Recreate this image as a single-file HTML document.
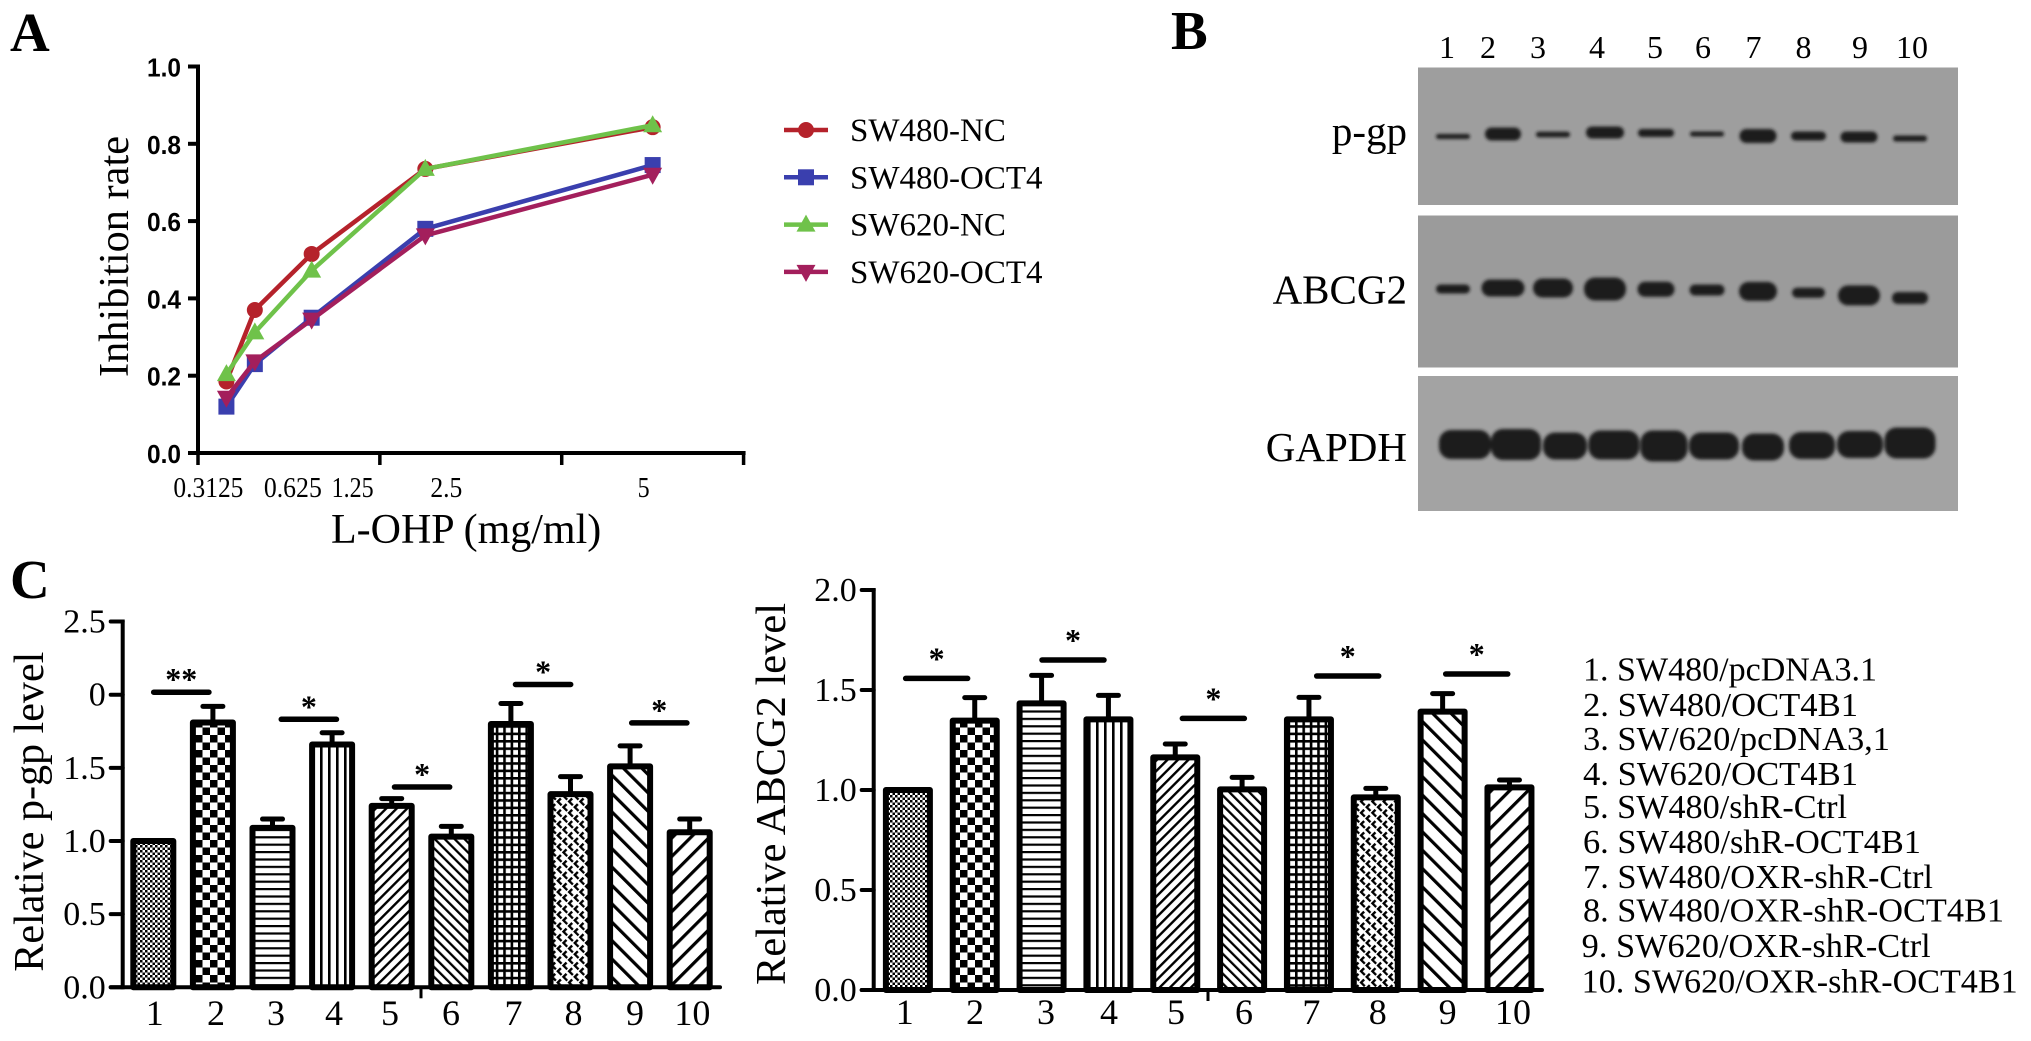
<!DOCTYPE html>
<html lang="en">
<head>
<meta charset="utf-8">
<title>OCT4B1 figure panels</title>
<style>
html,body{margin:0;padding:0;background:#fff;width:2031px;height:1041px;overflow:hidden}
svg{display:block}
text{font-family:"Liberation Serif",serif;fill:#000}
.bold{font-weight:bold}
.sans{font-family:"Liberation Sans",sans-serif;font-weight:bold}
</style>
</head>
<body>
<svg id="fig" xmlns="http://www.w3.org/2000/svg" width="2031" height="1041" viewBox="0 0 2031 1041">
<defs>
<filter id="blur1" x="-30%" y="-60%" width="160%" height="220%"><feGaussianBlur stdDeviation="1.6"/></filter>
<pattern id="p1" patternUnits="userSpaceOnUse" width="5" height="5"><rect width="5" height="5" fill="#fff"/><rect width="2.5" height="2.5" fill="#000"/><rect x="2.5" y="2.5" width="2.5" height="2.5" fill="#000"/></pattern>
<pattern id="p2" patternUnits="userSpaceOnUse" width="15" height="15"><rect width="15" height="15" fill="#fff"/><rect width="7.5" height="7.5" fill="#000"/><rect x="7.5" y="7.5" width="7.5" height="7.5" fill="#000"/></pattern>
<pattern id="p3" patternUnits="userSpaceOnUse" width="8" height="7.4"><rect width="8" height="7.4" fill="#fff"/><rect width="8" height="2.2" fill="#000"/></pattern>
<pattern id="p4" patternUnits="userSpaceOnUse" width="8" height="8"><rect width="8" height="8" fill="#fff"/><rect width="2.6" height="8" fill="#000"/></pattern>
<pattern id="p5" patternUnits="userSpaceOnUse" width="7.4" height="7.4" patternTransform="rotate(45)"><rect width="7.4" height="7.4" fill="#fff"/><rect width="2.4" height="7.4" fill="#000"/></pattern>
<pattern id="p6" patternUnits="userSpaceOnUse" width="7" height="7" patternTransform="rotate(-45)"><rect width="7" height="7" fill="#fff"/><rect width="2.3" height="7" fill="#000"/></pattern>
<pattern id="p7" patternUnits="userSpaceOnUse" width="7.4" height="7.4"><rect width="7.4" height="7.4" fill="#fff"/><rect width="2.6" height="7.4" fill="#000"/><rect width="7.4" height="2.6" fill="#000"/></pattern>
<pattern id="p8" patternUnits="userSpaceOnUse" width="8" height="8" patternTransform="rotate(45)"><rect width="8" height="8" fill="#fff"/><rect width="2.4" height="5.5" fill="#000"/><rect y="3.2" width="6.5" height="2.3" fill="#000"/></pattern>
<pattern id="p9" patternUnits="userSpaceOnUse" width="13" height="13" patternTransform="rotate(-45)"><rect width="13" height="13" fill="#fff"/><rect width="3.2" height="13" fill="#000"/></pattern>
<pattern id="p10" patternUnits="userSpaceOnUse" width="13" height="13" patternTransform="rotate(45)"><rect width="13" height="13" fill="#fff"/><rect width="3.2" height="13" fill="#000"/></pattern>
</defs>

<text class="bold" x="10" y="51" font-size="55">A</text>
<text class="bold" x="1171" y="49" font-size="55">B</text>
<text class="bold" x="10" y="598" font-size="55">C</text>

<g id="chart-a"></g>
<g id="legend-a"></g>

<g>
  <rect x="1418" y="67.5" width="540" height="137.5" fill="#9e9e9e"/>
  <rect x="1418" y="215.5" width="540" height="152" fill="#9b9b9b"/>
  <rect x="1418" y="376" width="540" height="135" fill="#a3a3a3"/>
  <g font-size="32" text-anchor="middle">
    <text x="1447" y="58">1</text><text x="1488" y="58">2</text><text x="1538" y="58">3</text><text x="1597" y="58">4</text><text x="1655" y="58">5</text><text x="1703" y="58">6</text><text x="1753.5" y="58">7</text><text x="1803.5" y="58">8</text><text x="1860" y="58">9</text><text x="1912" y="58">10</text>
  </g>
  <text x="1407" y="145" font-size="41" text-anchor="end">p-gp</text>
  <text x="1407" y="303.5" font-size="41" text-anchor="end">ABCG2</text>
  <text x="1407" y="461" font-size="41" text-anchor="end">GAPDH</text>
  <g fill="#1a1a1a" filter="url(#blur1)">
    <rect x="1436" y="134" width="34" height="5" rx="2.5"/><rect x="1485" y="127.5" width="36" height="13" rx="6.5"/><rect x="1536" y="131.75" width="34" height="5.5" rx="2.7"/><rect x="1586" y="126.5" width="38" height="12" rx="6"/><rect x="1638" y="129" width="36" height="8" rx="4"/><rect x="1690" y="131.5" width="34" height="5" rx="2.5"/><rect x="1739.5" y="129" width="37" height="14" rx="7"/><rect x="1791" y="131.5" width="35" height="9" rx="4.5"/><rect x="1840.5" y="131.5" width="37" height="11" rx="5.5"/><rect x="1893" y="135.5" width="34" height="6" rx="3"/>
  </g>
  <g fill="#1a1a1a" filter="url(#blur1)">
    <rect x="1436" y="284.5" width="34" height="9" rx="4.5"/><rect x="1481.5" y="279.5" width="43" height="17" rx="8.5"/><rect x="1533" y="278.5" width="40" height="19" rx="9.5"/><rect x="1584" y="277.5" width="42" height="23" rx="11"/><rect x="1637.5" y="281.8" width="37" height="15" rx="7.5"/><rect x="1689.5" y="284.5" width="35" height="11" rx="5.5"/><rect x="1739" y="281.9" width="38" height="19" rx="9.5"/><rect x="1792" y="287.7" width="33" height="10" rx="5"/><rect x="1838" y="285.4" width="42" height="20" rx="10"/><rect x="1892" y="292" width="36" height="12" rx="6"/>
  </g>
  <g fill="#1a1a1a" filter="url(#blur1)">
    <rect x="1439" y="430" width="52" height="29" rx="12"/><rect x="1491" y="429" width="50" height="31" rx="12"/><rect x="1543" y="432.5" width="44" height="27" rx="12"/><rect x="1588.5" y="430.5" width="51" height="29" rx="12"/><rect x="1640.5" y="430.5" width="47" height="31" rx="12"/><rect x="1689" y="432.5" width="50" height="27" rx="12"/><rect x="1742" y="433.5" width="42" height="27" rx="12"/><rect x="1789" y="432" width="46" height="27" rx="12"/><rect x="1837" y="431" width="46" height="27" rx="12"/><rect x="1884.5" y="427.5" width="51" height="31" rx="12"/>
  </g>
</g>

<g id="chart-left"></g>
<g id="chart-right"></g>

<g id="group-key" font-size="33.5">
  <text x="1583" y="680.7" textLength="294" lengthAdjust="spacingAndGlyphs">1. SW480/pcDNA3.1</text>
  <text x="1583" y="716" textLength="275" lengthAdjust="spacingAndGlyphs">2. SW480/OCT4B1</text>
  <text x="1583" y="750" textLength="307" lengthAdjust="spacingAndGlyphs">3. SW/620/pcDNA3,1</text>
  <text x="1583" y="785" textLength="275" lengthAdjust="spacingAndGlyphs">4. SW620/OCT4B1</text>
  <text x="1583" y="818" textLength="264" lengthAdjust="spacingAndGlyphs">5. SW480/shR-Ctrl</text>
  <text x="1583" y="853" textLength="338" lengthAdjust="spacingAndGlyphs">6. SW480/shR-OCT4B1</text>
  <text x="1583" y="888" textLength="350" lengthAdjust="spacingAndGlyphs">7. SW480/OXR-shR-Ctrl</text>
  <text x="1583" y="921.7" textLength="421" lengthAdjust="spacingAndGlyphs">8. SW480/OXR-shR-OCT4B1</text>
  <text x="1581.7" y="957" textLength="349" lengthAdjust="spacingAndGlyphs">9. SW620/OXR-shR-Ctrl</text>
  <text x="1581.7" y="992.7" textLength="436" lengthAdjust="spacingAndGlyphs">10. SW620/OXR-shR-OCT4B1</text>
</g>
</svg>

<script>
/* Panel A data */
const concentrations = [0.3125, 0.625, 1.25, 2.5, 5];
const sw480Nc = [0.185, 0.37, 0.515, 0.735, 0.843];
const sw480Oct4 = [0.12, 0.23, 0.35, 0.58, 0.745];
const sw620Nc = [0.204, 0.312, 0.472, 0.735, 0.848];
const sw620Oct4 = [0.143, 0.237, 0.345, 0.563, 0.72];
const seriesNamesA = ["SW480-NC", "SW480-OCT4", "SW620-NC", "SW620-OCT4"];
const yTicksA = [0, 0.2, 0.4, 0.6, 0.8, 1.0];
const xTicksA = [0, 2, 4, 6];
const xTickLabelsA = ["0.3125", "0.625", "1.25", "2.5", "5"];

/* Panel C data */
const groups = ["1", "2", "3", "4", "5", "6", "7", "8", "9", "10"];
const pgpMeans = [1.0, 1.81, 1.09, 1.66, 1.24, 1.03, 1.80, 1.32, 1.51, 1.06];
const pgpErrors = [0, 0.11, 0.06, 0.08, 0.05, 0.07, 0.14, 0.12, 0.14, 0.09];
const pgpSigLevels = [2.017, 1.832, 1.369, 2.07, 1.807];
const pgpSigPositions = [0.47, 2.61, 4.51, 6.54, 8.49];
const pgpSigLabels = ["**", "*", "*", "*", "*"];
const pgpTicks = [0, 0.5, 1.0, 1.5, 2.0, 2.5];
const pgpTickLabels = ["0.0", "0.5", "1.0", "1.5", "0", "2.5"];

const abcMeans = [1.0, 1.347, 1.433, 1.353, 1.163, 1.003, 1.353, 0.963, 1.392, 1.013];
const abcErrors = [0, 0.115, 0.14, 0.12, 0.067, 0.06, 0.11, 0.045, 0.09, 0.037];
const abcSigLevels = [1.558, 1.65, 1.358, 1.57, 1.58];
const abcSigPositions = [0.43, 2.47, 4.57, 6.58, 8.51];
const abcSigLabels = ["*", "*", "*", "*", "*"];
const abcTicks = [0, 0.5, 1.0, 1.5, 2.0];
const abcTickLabels = ["0.0", "0.5", "1.0", "1.5", "2.0"];

const NS = "http://www.w3.org/2000/svg";
function mk(parent, tag, attrs, txt) {
  const el = document.createElementNS(NS, tag);
  for (const k in attrs) el.setAttribute(k, attrs[k]);
  if (txt !== undefined) el.textContent = txt;
  parent.appendChild(el);
  return el;
}
function tag(el, name) {
  
  
  return el;
}

/* ---------- Panel A ---------- */
const xA = v => 198 + v * 90.93;
const yA = v => 453 - 386.5 * v;
const gA = document.getElementById("chart-a");
const colorsA = ["#b5222b", "#3a3fae", "#6fc24a", "#a31f5c"];
const shapesA = ["circle", "square", "triangle", "invtriangle"];

function marker(parent, shape, x, y, color, name) {
  let el;
  if (shape === "circle") el = mk(parent, "circle", {cx: x, cy: y, r: 8, fill: color});
  else if (shape === "square") el = mk(parent, "rect", {x: x - 8, y: y - 8, width: 16, height: 16, fill: color});
  else if (shape === "triangle") el = mk(parent, "polygon", {points: `${x},${y - 10} ${x + 9.5},${y + 7} ${x - 9.5},${y + 7}`, fill: color});
  else el = mk(parent, "polygon", {points: `${x},${y + 10} ${x + 9.5},${y - 7} ${x - 9.5},${y - 7}`, fill: color});
  
  
  return el;
}

(function drawA() {
  const yAxis = mk(gA, "line", {x1: xA(0), x2: xA(0), y1: yA(1) - 2, y2: yA(0) + 2, stroke: "#000", "stroke-width": 4});
  
  
  const xAxis = mk(gA, "line", {x1: xA(0) - 10, x2: xA(6) + 2, y1: yA(0), y2: yA(0), stroke: "#000", "stroke-width": 4});
  
  
  yTicksA.forEach(v => {
    tag(mk(gA, "line", {x1: xA(0) - 10, x2: xA(0), y1: yA(v), y2: yA(v), stroke: "#000", "stroke-width": 4}), 'y-tick');
    tag(mk(gA, "text", {x: 181, y: yA(v) + 10, "font-size": 26, "text-anchor": "end", class: "sans", textLength: 34, lengthAdjust: "spacingAndGlyphs"}, v.toFixed(1)), 'y-tick-label');
  });
  xTicksA.forEach(v => {
    tag(mk(gA, "line", {x1: xA(v), x2: xA(v), y1: yA(0), y2: yA(0) + 12, stroke: "#000", "stroke-width": 3.5}), 'x-tick');
  });
  const labelShift = [-18, 38, 41, 21, -9];
  const labelWidth = [70, 58, 42, 32, 12];
  xTickLabelsA.forEach((t, i) => {
    tag(mk(gA, "text", {x: xA(concentrations[i]) + labelShift[i], y: 497, "font-size": 29, "text-anchor": "middle", textLength: labelWidth[i], lengthAdjust: "spacingAndGlyphs"}, t), 'x-tick-label');
  });
  [sw480Nc, sw480Oct4, sw620Nc, sw620Oct4].forEach((vals, s) => {
    const g = mk(gA, "g", {});
    
    
    const pts = vals.map((v, i) => xA(concentrations[i]) + "," + yA(v)).join(" ");
    const line = mk(g, "polyline", {points: pts, fill: "none", stroke: colorsA[s], "stroke-width": 4.5});
    
    
    vals.forEach((v, i) => marker(g, shapesA[s], xA(concentrations[i]), yA(v), colorsA[s], 'series-point'));
  });
  const yTitle = mk(gA, "text", {transform: "translate(128,377) rotate(-90)", "font-size": 42, textLength: 241, lengthAdjust: "spacingAndGlyphs"}, "Inhibition rate");
  
  
  const xTitle = mk(gA, "text", {x: 331, y: 543, "font-size": 42}, "L-OHP (mg/ml)");
  
  

  const lg = document.getElementById("legend-a");
  seriesNamesA.forEach((n, i) => {
    const yy = 130 + i * 47.3;
    const g = mk(lg, "g", {});
    
    
    mk(g, "line", {x1: 784, x2: 828, y1: yy, y2: yy, stroke: colorsA[i], "stroke-width": 4.5});
    marker(g, shapesA[i], 806, yy, colorsA[i], 'legend-marker');
    mk(g, "text", {x: 850, y: yy + 11, "font-size": 33}, n);
  });
})();

/* ---------- Panel C ---------- */
function drawBars(cfg) {
  const g = document.getElementById(cfg.id);
  const y = v => cfg.y0 - cfg.unit * v;
  const cx = i => cfg.x0 + cfg.pitch * i;
  const sw = 6;

  cfg.means.forEach((m, i) => {
    const group = mk(g, "g", {});
    
    
    if (cfg.errors[i] > 0) {
      const stem = mk(group, "line", {x1: cx(i), x2: cx(i), y1: y(m), y2: y(m + cfg.errors[i]), stroke: "#000", "stroke-width": 5});
      
      
      const cap = mk(group, "line", {x1: cx(i) - 10, x2: cx(i) + 10, y1: y(m + cfg.errors[i]), y2: y(m + cfg.errors[i]), stroke: "#000", "stroke-width": 5, "stroke-linecap": "round"});
      
      
    }
    const bar = mk(group, "rect", {x: cx(i) - (cfg.barW - sw) / 2, y: y(m), width: cfg.barW - sw, height: y(0) - y(m), fill: "url(#p" + (i + 1) + ")", stroke: "#000", "stroke-width": sw, "stroke-linejoin": "round"});
    
    
    const lab = mk(group, "text", {x: cfg.labelX[i], y: cfg.labelY, "font-size": 36, "text-anchor": "middle"}, groups[i]);
    
    
  });

  tag(mk(g, "line", {x1: cfg.axisX, x2: cfg.axisX, y1: y(cfg.ticks[cfg.ticks.length - 1]) - 2, y2: y(0) + 2, stroke: "#000", "stroke-width": 4}), 'y-axis');
  tag(mk(g, "line", {x1: cfg.axisX - 12, x2: cfg.axisEnd, y1: y(0), y2: y(0), stroke: "#000", "stroke-width": 4, "stroke-linecap": "round"}), 'x-axis');
  tag(mk(g, "line", {x1: cfg.midTick, x2: cfg.midTick, y1: y(0), y2: y(0) + 11, stroke: "#000", "stroke-width": 3}), 'x-tick');

  cfg.ticks.forEach((v, i) => {
    tag(mk(g, "line", {x1: cfg.axisX - 12, x2: cfg.axisX, y1: y(v), y2: y(v), stroke: "#000", "stroke-width": 4, "stroke-linecap": "round"}), 'y-tick');
    tag(mk(g, "text", {x: cfg.axisX - 17, y: y(v) + 11, "font-size": 34, "text-anchor": "end"}, cfg.tickLabels[i]), 'y-tick-label');
  });

  cfg.sigLevels.forEach((lv, i) => {
    const c = cx(cfg.sigPos[i]);
    const br = mk(g, "line", {x1: c - cfg.sigHalf, x2: c + cfg.sigHalf, y1: y(lv), y2: y(lv), stroke: "#000", "stroke-width": 5.5, "stroke-linecap": "round"});
    
    
    const st = mk(g, "text", {x: c, y: y(lv) + cfg.starGap, "font-size": 32, "text-anchor": "middle", class: "bold"}, cfg.sigLabels[i]);
    
    
  });

  const t = mk(g, "text", {transform: `translate(${cfg.titleX},${cfg.titleY}) rotate(-90)`, "font-size": 42, textLength: cfg.titleLen, lengthAdjust: "spacingAndGlyphs"}, cfg.title);
  
  
}

drawBars({id: "chart-left", y0: 987.3, unit: 146.3, x0: 153.3, pitch: 59.6, barW: 46,
  means: pgpMeans, errors: pgpErrors, ticks: pgpTicks, tickLabels: pgpTickLabels,
  sigLevels: pgpSigLevels, sigPos: pgpSigPositions, sigLabels: pgpSigLabels, sigHalf: 27.6, starGap: -2,
  labelX: [154.8, 216, 276, 334, 390, 451, 513.5, 573.5, 635, 692.4], labelY: 1025,
  axisX: 122.7, axisEnd: 720, midTick: 421,
  title: "Relative p-gp level", titleX: 43, titleY: 971.7, titleLen: 320});

drawBars({id: "chart-right", y0: 990, unit: 200, x0: 907.9, pitch: 66.84, barW: 50,
  means: abcMeans, errors: abcErrors, ticks: abcTicks, tickLabels: abcTickLabels,
  sigLevels: abcSigLevels, sigPos: abcSigPositions, sigLabels: abcSigLabels, sigHalf: 31, starGap: -9,
  labelX: [904.8, 975, 1046, 1109, 1176, 1244, 1311.4, 1377.8, 1447.6, 1513], labelY: 1024,
  axisX: 873.7, axisEnd: 1542, midTick: 1208,
  title: "Relative ABCG2 level", titleX: 785, titleY: 985, titleLen: 382});
</script>
</body>
</html>
